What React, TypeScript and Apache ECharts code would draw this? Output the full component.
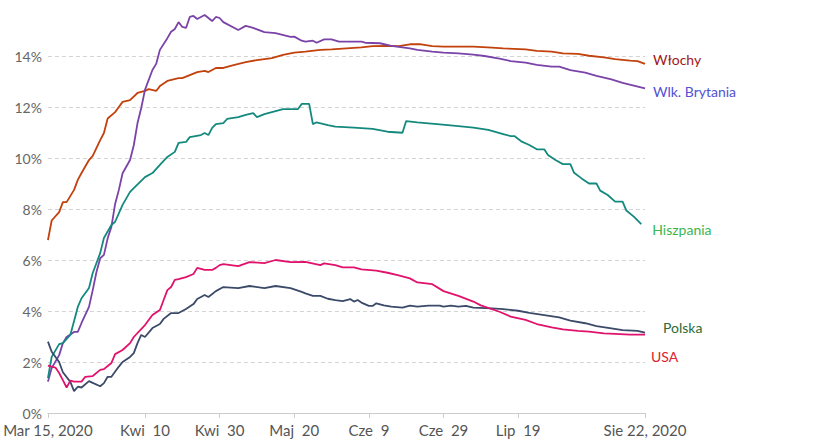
import React, { useEffect, useRef } from "react";
import * as echarts from "echarts";

// x categories: days from Mar 15, 2020 to Aug 22, 2020
const START_DATE = "2020-03-15";
const DAY_COUNT = 161;
const tickIndices = [0, 26, 46, 66, 86, 106, 126, 160];
const tickLabels = ["Mar 15, 2020", "Kwi\u00a0\u00a010", "Kwi\u00a0\u00a030", "Maj\u00a0\u00a020", "Cze\u00a0\u00a09", "Cze\u00a0\u00a029", "Lip\u00a0\u00a019", "Sie 22, 2020"];
const yTicks = [0, 2, 4, 6, 8, 10, 12, 14];

const seriesNames = ["Włochy", "Wlk. Brytania", "Hiszpania", "Polska", "USA"];

// [dayIndex, percent]
const italy: [number, number][] = [
  [0, 6.78], [1, 7.55], [3, 7.88], [4, 8.27], [5, 8.27], [7, 8.75], [8, 9.14], [9, 9.41], [11, 9.92], [12, 10.08],
  [14, 10.7], [15, 10.98], [16, 11.55], [18, 11.8], [19, 12.0], [20, 12.2], [22, 12.27], [24, 12.55], [26, 12.63],
  [27, 12.7], [29, 12.63], [30, 12.82], [32, 13.02], [35, 13.13], [36, 13.13], [38, 13.25], [40, 13.37], [42, 13.42],
  [43, 13.37], [45, 13.53], [47, 13.53], [50, 13.65], [53, 13.76], [56, 13.84], [60, 13.92], [63, 14.04], [66, 14.13],
  [69, 14.17], [73, 14.24], [76, 14.26], [80, 14.3], [84, 14.34], [87, 14.39], [91, 14.4], [94, 14.39], [97, 14.46],
  [100, 14.46], [103, 14.39], [106, 14.37], [110, 14.37], [114, 14.37], [119, 14.33], [122, 14.3], [128, 14.26],
  [131, 14.2], [135, 14.17], [138, 14.1], [142, 14.08], [145, 14.01], [149, 13.95], [152, 13.88], [156, 13.82],
  [158, 13.8], [160, 13.69],
];

const uk: [number, number][] = [
  [0, 1.23], [1, 1.76], [3, 2.27], [4, 2.74], [5, 2.98], [7, 3.18], [8, 3.18], [9, 3.53], [11, 4.16], [12, 4.82],
  [13, 5.53], [14, 6.07], [15, 6.2], [16, 6.85], [17, 7.3], [18, 8.2], [19, 8.75], [20, 9.4], [22, 9.92], [23, 10.5],
  [24, 11.37], [25, 11.96], [26, 12.67], [28, 13.45], [29, 13.69], [30, 14.24], [32, 14.7], [33, 14.95], [34, 15.06],
  [35, 15.33], [36, 15.14], [37, 15.1], [38, 15.53], [39, 15.57], [40, 15.45], [42, 15.61], [44, 15.37], [45, 15.53],
  [46, 15.49], [47, 15.33], [51, 15.02], [53, 15.18], [55, 15.1], [58, 14.94], [61, 14.9], [65, 14.75], [66, 14.76],
  [68, 14.6], [69, 14.56], [71, 14.6], [72, 14.52], [74, 14.65], [76, 14.65], [78, 14.56], [84, 14.56], [85, 14.52],
  [89, 14.5], [92, 14.4], [97, 14.3], [99, 14.24], [103, 14.17], [106, 14.13], [110, 14.1], [114, 14.05], [117, 14.0],
  [121, 13.9], [124, 13.8], [128, 13.74], [131, 13.65], [135, 13.58], [137, 13.58], [140, 13.45], [144, 13.35],
  [147, 13.22], [151, 13.08], [154, 12.95], [160, 12.73],
];

const spain: [number, number][] = [
  [0, 1.37], [1, 2.2], [3, 2.7], [4, 2.74], [6, 3.06], [8, 4.16], [9, 4.5], [11, 4.9], [12, 5.49], [14, 6.27],
  [15, 6.86], [17, 7.37], [18, 7.5], [20, 8.16], [22, 8.67], [23, 8.82], [26, 9.25], [28, 9.41], [30, 9.73],
  [32, 10.04], [34, 10.24], [35, 10.59], [37, 10.63], [38, 10.82], [41, 10.9], [42, 10.98], [43, 10.9], [44, 11.18],
  [45, 11.33], [47, 11.37], [48, 11.53], [51, 11.6], [53, 11.69], [55, 11.76], [56, 11.6], [58, 11.72], [61, 11.84],
  [63, 11.92], [67, 11.92], [68, 12.12], [70, 12.12], [71, 11.33], [72, 11.4], [75, 11.29], [77, 11.23], [82, 11.19],
  [87, 11.14], [91, 11.03], [95, 10.99], [96, 11.45], [99, 11.4], [105, 11.32], [110, 11.25], [114, 11.19],
  [118, 11.1], [122, 10.94], [124, 10.86], [125, 10.86], [127, 10.64], [129, 10.51], [131, 10.34], [133, 10.34],
  [134, 10.12], [136, 9.92], [138, 9.76], [140, 9.76], [141, 9.42], [143, 9.2], [145, 9.0], [147, 9.0], [148, 8.72],
  [150, 8.55], [152, 8.29], [154, 8.29], [155, 7.94], [157, 7.7], [159, 7.41],
];

const poland: [number, number][] = [
  [0, 2.8], [1, 2.4], [3, 2.0], [4, 1.6], [6, 1.22], [7, 0.86], [8, 1.03], [9, 1.0], [11, 1.25], [12, 1.18],
  [14, 1.05], [15, 1.17], [16, 1.42], [17, 1.42], [19, 1.82], [20, 2.0], [22, 2.2], [23, 2.35], [24, 2.74],
  [25, 3.06], [26, 2.98], [28, 3.33], [30, 3.49], [31, 3.69], [33, 3.92], [35, 3.92], [37, 4.08], [39, 4.27],
  [40, 4.47], [42, 4.63], [43, 4.55], [45, 4.78], [47, 4.94], [51, 4.9], [54, 4.98], [58, 4.9], [61, 4.98],
  [65, 4.9], [66, 4.85], [68, 4.75], [69, 4.69], [71, 4.59], [73, 4.59], [75, 4.48], [77, 4.43], [79, 4.39],
  [81, 4.47], [82, 4.37], [83, 4.43], [84, 4.33], [86, 4.2], [87, 4.2], [88, 4.3], [90, 4.22], [92, 4.17],
  [95, 4.13], [97, 4.21], [99, 4.17], [102, 4.21], [105, 4.21], [106, 4.17], [108, 4.21], [110, 4.17], [112, 4.2],
  [114, 4.13], [119, 4.1], [122, 4.07], [126, 4.01], [129, 3.93], [133, 3.84], [137, 3.75], [140, 3.62],
  [144, 3.52], [147, 3.41], [151, 3.32], [154, 3.25], [158, 3.22], [160, 3.15],
];

const usa: [number, number][] = [
  [0, 1.86], [2, 1.78], [3, 1.57], [4, 1.29], [5, 1.0], [6, 1.27], [7, 1.23], [9, 1.23], [10, 1.42], [12, 1.45],
  [14, 1.69], [15, 1.72], [17, 1.96], [18, 2.31], [20, 2.47], [22, 2.74], [23, 2.98], [26, 3.45], [28, 3.84],
  [30, 4.04], [31, 4.43], [32, 4.82], [33, 4.94], [34, 5.22], [35, 5.25], [37, 5.33], [39, 5.45], [40, 5.69],
  [42, 5.61], [44, 5.61], [45, 5.69], [46, 5.8], [47, 5.84], [51, 5.76], [54, 5.92], [58, 5.88], [61, 6.0],
  [65, 5.92], [69, 5.93], [73, 5.8], [74, 5.87], [77, 5.8], [79, 5.71], [82, 5.71], [84, 5.63], [88, 5.58],
  [91, 5.5], [94, 5.4], [97, 5.28], [99, 5.12], [103, 5.05], [106, 4.78], [110, 4.59], [114, 4.37], [116, 4.22],
  [121, 3.97], [124, 3.78], [128, 3.65], [131, 3.49], [135, 3.36], [138, 3.28], [142, 3.22], [145, 3.19],
  [149, 3.12], [152, 3.1], [156, 3.07], [160, 3.07],
];

const seriesData = [italy, uk, spain, poland, usa];
const lineColors = ["#c2410c", "#7a43a8", "#14897d", "#3b4a68", "#e0126b"];
const labelColors = ["#a01620", "#5252d2", "#3db54e", "#2a6b38", "#e0202e"];
const labelOffsets: [number, number][] = [[0, -4], [0, 3], [3, 5], [10, -5], [-2, 22]];

function buildCategories(): string[] {
  const out: string[] = [];
  const d0 = new Date(START_DATE + "T00:00:00Z").getTime();
  for (let i = 0; i < DAY_COUNT; i++) {
    const d = new Date(d0 + i * 86400000);
    out.push(d.toISOString().slice(0, 10));
  }
  return out;
}

export default function App() {
  const ref = useRef<HTMLDivElement>(null);
  useEffect(() => {
    if (!ref.current) return;
    const chart = echarts.init(ref.current, undefined, { renderer: "svg" });
    const categories = buildCategories();
    const font = "Lato";
    chart.setOption({
      animation: false,
      backgroundColor: "#ffffff",
      grid: { left: 42, right: 194, top: 5, bottom: 27, containLabel: false },
      xAxis: {
        type: "category",
        data: categories,
        boundaryGap: false,
        axisLine: { show: true, lineStyle: { color: "#cccccc", width: 1 } },
        axisTick: {
          show: true,
          length: 5,
          interval: (idx: number) => tickIndices.includes(idx),
          lineStyle: { color: "#cccccc" },
        },
        axisLabel: {
          interval: (idx: number) => tickIndices.includes(idx),
          formatter: (_v: string, idx: number) => {
            const k = tickIndices.indexOf(idx);
            return k >= 0 ? tickLabels[k] : "";
          },
          color: "#555555",
          fontSize: 15,
          fontFamily: font,
          margin: 9,
          hideOverlap: false,
        },
        splitLine: { show: false },
      },
      yAxis: {
        type: "value",
        min: 0,
        max: 16,
        interval: 2,
        axisLine: { show: false },
        axisTick: { show: false },
        axisLabel: {
          formatter: (v: number) => (yTicks.includes(v) ? v + "%" : ""),
          color: "#666666",
          fontSize: 14,
          fontFamily: font,
          margin: 6,
          showMaxLabel: false,
        },
        splitLine: {
          show: true,
          showMinLine: false,
          showMaxLine: false,
          lineStyle: { color: "#d4d4d4", type: [4, 3], width: 1 },
        },
      },
      series: seriesNames.map((name, i) => ({
        name,
        type: "line",
        data: seriesData[i],
        showSymbol: false,
        symbol: "none",
        lineStyle: { color: lineColors[i], width: 1.8 },
        itemStyle: { color: lineColors[i] },
        emphasis: { disabled: true },
        endLabel: {
          show: true,
          formatter: name,
          color: labelColors[i],
          fontSize: 14,
          fontFamily: font,
          distance: 8,
          offset: labelOffsets[i],
        },
      })),
    });
    return () => chart.dispose();
  }, []);
  return (
    <div
      ref={ref}
      style={{ position: "absolute", left: 0, top: 0, width: 839, height: 440 }}
    />
  );
}
